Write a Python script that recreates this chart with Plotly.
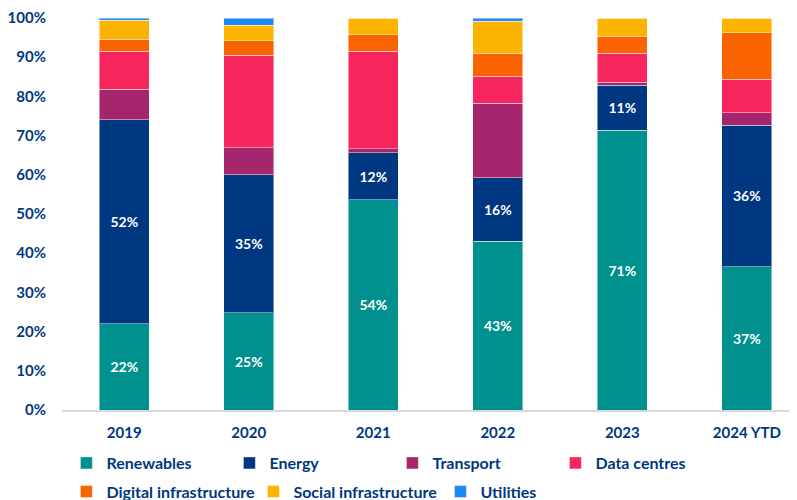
import plotly.graph_objects as go

categories = ["2019", "2020", "2021", "2022", "2023", "2024 YTD"]
renewables = [22.0, 24.8, 53.6, 43.0, 71.4, 36.6]
energy = [52.0, 35.2, 12.0, 16.3, 11.4, 36.0]
transport = [7.8, 6.9, 1.1, 18.9, 0.8, 3.2]
data_centres = [9.7, 23.6, 24.8, 7.0, 7.4, 8.6]
digital_infra = [3.1, 3.7, 4.2, 5.8, 4.3, 11.8]
social_infra = [4.8, 4.0, 4.3, 8.2, 4.7, 3.8]
utilities = [0.6, 1.8, 0.0, 0.8, 0.0, 0.0]
y_ticks = [0, 10, 20, 30, 40, 50, 60, 70, 80, 90, 100]

series = [
    ("Renewables", renewables, "#00908D", True, "legend"),
    ("Energy", energy, "#003781", True, "legend"),
    ("Transport", transport, "#A6266E", False, "legend"),
    ("Data centres", data_centres, "#F6255B", False, "legend"),
    ("Digital infrastructure", digital_infra, "#F96400", False, "legend2"),
    ("Social infrastructure", social_infra, "#FDB400", False, "legend2"),
    ("Utilities", utilities, "#1E88F5", False, "legend2"),
]

NAVY = "#003781"
FONT = "Lato"

fig = go.Figure()
for name, vals, color, labelled, leg in series:
    fig.add_trace(go.Bar(
        name=name,
        x=categories,
        y=vals,
        width=0.4,
        legend=leg,
        marker=dict(color=color, line=dict(color="rgba(255,255,255,0.45)", width=1)),
        text=[f"{round(v)}%" for v in vals] if labelled else None,
        textposition="inside" if labelled else "none",
        insidetextanchor="middle",
        textangle=0,
        textfont=dict(family=FONT, size=14, color="white", weight="bold"),
        hoverinfo="x+y+name",
    ))

legend_common = dict(
    orientation="h",
    x=0.006,
    xanchor="left",
    yanchor="middle",
    entrywidthmode="pixels",
    itemwidth=30,
    traceorder="normal",
    font=dict(family=FONT, size=16, color=NAVY, weight="bold"),
    bgcolor="rgba(0,0,0,0)",
)

# page body adds an 8px margin, so the figure is sized/offset to compensate
fig.update_layout(
    barmode="stack",
    width=789,
    height=492,
    margin=dict(l=54, r=0, t=10, b=90, autoexpand=False),
    plot_bgcolor="white",
    paper_bgcolor="white",
    font=dict(family=FONT, size=15, color=NAVY, weight="bold"),
    legend=dict(legend_common, y=-0.1352, entrywidth=118),
    legend2=dict(legend_common, y=-0.2084, entrywidth=142),
)
fig.update_xaxes(
    type="category",
    range=[-0.5, 5.403],
    showline=True,
    linecolor="#D9D9D9",
    linewidth=2,
    showgrid=False,
    ticks="",
    ticklabelstandoff=8,
    tickfont=dict(family=FONT, size=15, color=NAVY, weight="bold"),
)
fig.update_yaxes(
    range=[0, 100],
    tickvals=y_ticks,
    ticktext=[f"{v}%" for v in y_ticks],
    showgrid=False,
    zeroline=False,
    showline=False,
    ticks="",
    ticklabelstandoff=15,
    tickfont=dict(family=FONT, size=15, color=NAVY, weight="bold"),
)

fig.write_html("out.html")
